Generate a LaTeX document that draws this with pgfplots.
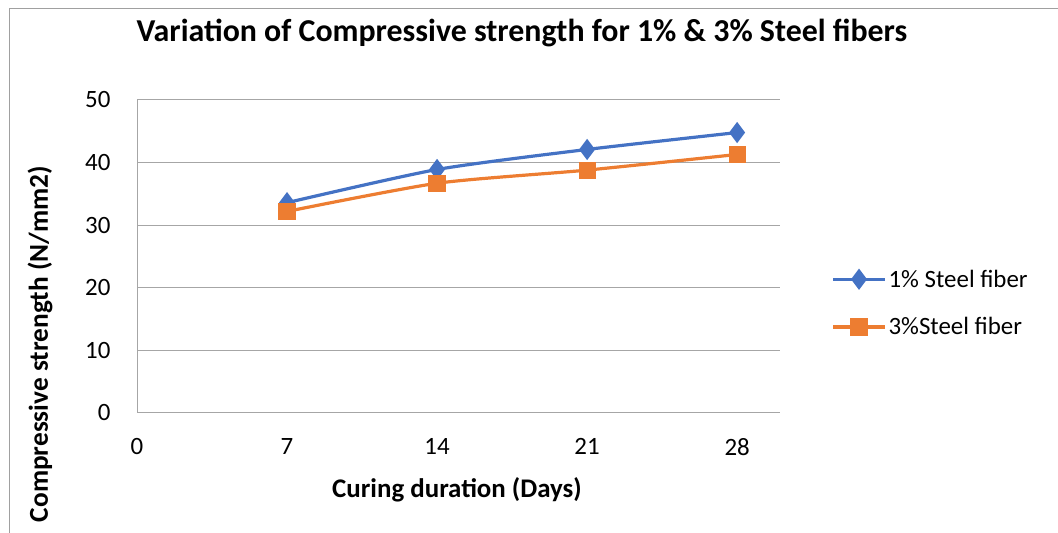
\documentclass[border=0pt]{standalone}
\usepackage{fontspec}
\setmainfont{Carlito}
\usepackage{pgfplots}
\pgfplotsset{compat=1.18}
\definecolor{serA}{HTML}{4472C4}
\definecolor{serB}{HTML}{ED7D31}
\definecolor{gridc}{HTML}{A6A6A6}
\definecolor{framec}{HTML}{A0A0A0}
\begin{document}
\begin{tikzpicture}
  \useasboundingbox (0bp,0bp) rectangle (1058bp,533bp);
  % outer chart frame (top and left edges)
  \draw[framec, line width=1.5bp] (9.5bp,0bp) -- (9.5bp,524.5bp) -- (1058bp,524.5bp);
  \begin{axis}[
    at={(137bp,120bp)}, anchor=south west,
    scale only axis, width=643bp, height=313bp,
    xmin=0, xmax=30, ymin=0, ymax=50,
    xtick={0,7,14,21,28}, ytick={0,10,20,30,40,50},
    axis x line=bottom, axis y line=left,
    axis line style={gridc, line width=1bp, -},
    major tick length=0pt,
    ymajorgrids, grid style={gridc, line width=1bp},
    tick label style={font=\fontsize{25}{30}\selectfont, black},
    /pgf/number format/assume math mode=true,
    xticklabel style={yshift=-22bp},
    yticklabel style={xshift=-23bp},
    legend style={draw=none, fill=none, at={(1.075,0.351)}, anchor=west,
      font=\fontsize{25}{30}\selectfont, row sep=25bp,
      /tikz/every even column/.append style={column sep=3bp}},
    legend cell align=left,
    legend image code/.code={
      \draw[#1] (0bp,0bp) -- (26bp,0bp);
      \draw[#1] (-26bp,0bp) -- (0bp,0bp) plot coordinates {(0bp,0bp)};
    },
    clip=false,
  ]
    \addplot[serA, line width=3.2bp, smooth, tension=0.4, mark=diamond*,
      mark size=8bp, mark options={fill=serA, solid}]
      coordinates {(7,33.6) (14,38.9) (21,42.1) (28,44.8)};
    \addlegendentry{1\% Steel fiber}
    \addplot[serB, line width=3.2bp, smooth, tension=0.4, mark=square*,
      mark size=7bp, mark options={fill=serB, solid}]
      coordinates {(7,32.2) (14,36.7) (21,38.8) (28,41.3)};
    \addlegendentry{3\%Steel fiber}
  \end{axis}
  \node[font=\bfseries\fontsize{32}{38}\selectfont] at (522bp,500bp) {Variation of Compressive strength for 1\% \& 3\% Steel fibers};
  \node[font=\bfseries\fontsize{27}{32}\selectfont] at (457bp,43bp) {Curing duration (Days)};
  \node[font=\bfseries\fontsize{27.4}{32}\selectfont, rotate=90] at (40bp,189bp) {Compressive strength (N/mm2)};
\end{tikzpicture}
\end{document}
